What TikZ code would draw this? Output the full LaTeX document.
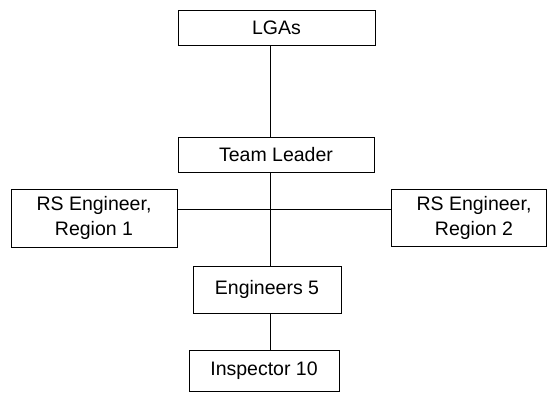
\documentclass[tikz,border=0pt]{standalone}
\usepackage{fontspec}
\setmainfont{Liberation Sans}
\begin{document}
\begin{tikzpicture}[x=1pt,y=-1pt,
  orgbox/.style={draw=black, line width=0.9pt, inner sep=0pt, align=center,
    font=\fontsize{19.5}{25}\selectfont},
  link/.style={draw=black, line width=0.8pt}]
\useasboundingbox (0,0) rectangle (548,393);
\node[orgbox, minimum width=197pt, minimum height=35pt] (lga) at (276.5,27.5) {LGAs};
\node[orgbox, minimum width=196pt, minimum height=35pt] (tl) at (276,154.5) {Team Leader};
\node[orgbox, minimum width=166pt, minimum height=58pt] (r1) at (94,218) {RS Engineer,\\Region 1};
\node[orgbox, minimum width=155pt, minimum height=57pt] (r2) at (468.5,217.5) {\hspace*{11pt}RS Engineer,\\\hspace*{11pt}Region 2};
\node[orgbox, minimum width=148pt, minimum height=47pt] (e5) at (267,289.5) {Engineers 5};
\node[orgbox, minimum width=150pt, minimum height=41pt] (in) at (264,371) {Inspector 10};
\coordinate (vx) at (270,0);
\coordinate (hy) at (0,209);
\draw[link] (vx |- lga.south) -- (vx |- tl.north);
\draw[link] (vx |- tl.south) -- (vx |- e5.north);
\draw[link] (vx |- e5.south) -- (vx |- in.north);
\draw[link] (r1.east |- hy) -- (r2.west |- hy);
\end{tikzpicture}
\end{document}
